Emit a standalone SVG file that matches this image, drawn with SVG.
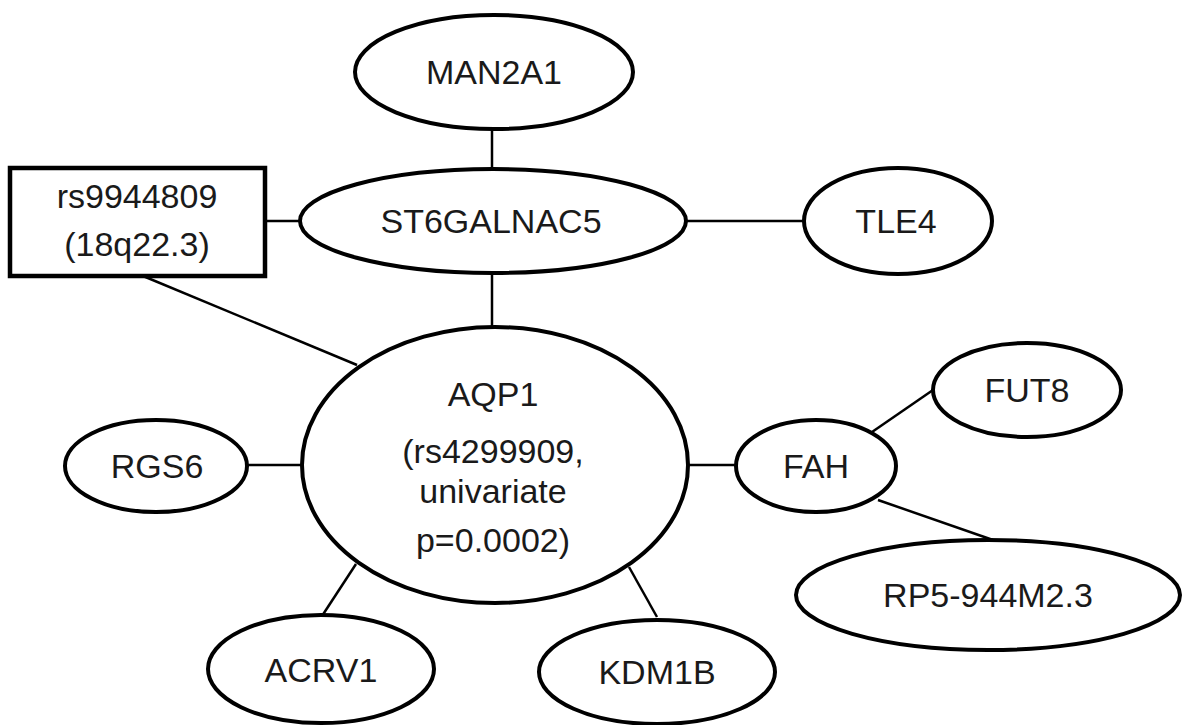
<svg xmlns="http://www.w3.org/2000/svg" width="1183" height="725" viewBox="0 0 1183 725">
<style>
.n{fill:#fff;stroke:#000;stroke-width:4}
.b{fill:#fff;stroke:#000;stroke-width:4.5}
.e line{stroke:#000;stroke-width:2.5}
text{font-family:"Liberation Sans",Arial,sans-serif;font-size:34px;fill:#1a1a1a;text-anchor:middle}
</style>
<rect width="1183" height="725" fill="#fff"/>
<g id="edges" class="e">
<line x1="492" y1="129" x2="492" y2="169"/>
<line x1="492" y1="273" x2="492" y2="327"/>
<line x1="265" y1="221" x2="300" y2="221"/>
<line x1="686" y1="221" x2="804" y2="221"/>
<line x1="143" y1="276" x2="357" y2="365"/>
<line x1="247" y1="465" x2="302" y2="465"/>
<line x1="688" y1="465" x2="736" y2="465"/>
<line x1="872" y1="432" x2="933" y2="390"/>
<line x1="878" y1="500" x2="993" y2="540"/>
<line x1="356" y1="564" x2="322" y2="616"/>
<line x1="629" y1="567" x2="657" y2="617"/>
</g>
<g id="MAN2A1"><ellipse class="n" cx="494" cy="72" rx="139" ry="57"/><text x="494" y="84">MAN2A1</text></g>
<g id="ST6GALNAC5"><ellipse class="n" cx="493" cy="221" rx="193" ry="52"/><text x="491" y="233">ST6GALNAC5</text></g>
<g id="rs9944809"><rect class="b" x="10" y="168" width="255" height="108"/><text x="137" y="208">rs9944809</text><text x="137" y="256">(18q22.3)</text></g>
<g id="TLE4"><ellipse class="n" cx="898" cy="221" rx="94" ry="53"/><text x="896" y="233">TLE4</text></g>
<g id="AQP1"><ellipse class="n" cx="495" cy="465" rx="193" ry="138"/>
<text x="493" y="406">AQP1</text><text x="493" y="463">(rs4299909,</text><text x="493" y="503">univariate</text><text x="493" y="552">p=0.0002)</text></g>
<g id="RGS6"><ellipse class="n" cx="156" cy="466" rx="91" ry="46"/><text x="157" y="478">RGS6</text></g>
<g id="FAH"><ellipse class="n" cx="816" cy="466" rx="80" ry="46"/><text x="816" y="478">FAH</text></g>
<g id="FUT8"><ellipse class="n" cx="1027" cy="390" rx="94" ry="47"/><text x="1027" y="402">FUT8</text></g>
<g id="RP5-944M2.3"><ellipse class="n" cx="988" cy="595" rx="192" ry="55"/><text x="988" y="607">RP5-944M2.3</text></g>
<g id="ACRV1"><ellipse class="n" cx="321" cy="669" rx="113" ry="54"/><text x="321" y="682">ACRV1</text></g>
<g id="KDM1B"><ellipse class="n" cx="657" cy="672" rx="118" ry="52"/><text x="657" y="684">KDM1B</text></g>
</svg>
